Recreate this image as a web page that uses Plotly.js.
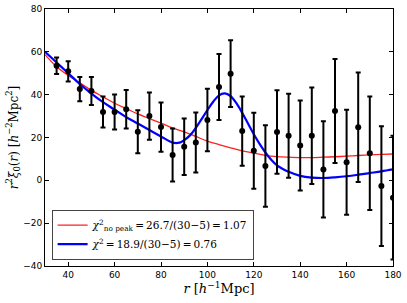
<!DOCTYPE html>
<html>
<head>
<meta charset="utf-8">
<script src="https://cdn.plot.ly/plotly-3.0.1.min.js"></script>
<style>html,body{margin:0;padding:0;background:#fff}#chart{width:407px;height:303px}</style>
</head>
<body>
<div id="chart"></div>
<script>
// Measured data
const rData = [35,40,45,50,55,60,65,70,75,80,85,90,95,100,105,110,115,120,125,130,135,140,145,150,155,160,165,170,175,180];
const xiData = [53.5,50.9,42.6,41.7,31.9,31.9,33.2,22.7,30.0,24.9,11.8,15.7,17.7,28.2,43.6,49.8,23.0,13.8,6.7,22.6,20.8,16.3,20.8,5.1,32.4,8.4,24.8,12.6,-2.7,-8.1];
const xiErr = [3.9,4.7,5.7,6.5,7.2,8.2,9.0,10.0,11.0,11.5,12.4,13.2,14.0,14.6,15.4,15.6,16.2,17.7,19.0,19.5,19.6,21.0,22.5,22.5,24.3,24.5,25.6,26.5,28.0,28.9];

// No-peak model (red)
const rNoPeak = [30,35,40,45,50,55,60,65,70,75,80,85,90,95,100,105,110,115,120,125,130,135,140,145,150,155,160,165,170,175,180];
const xiNoPeak = [58.7,53.0,49.0,45.5,42.0,39.0,36.0,33.5,31.0,28.8,26.7,24.5,22.6,20.5,18.3,16.7,15.2,13.8,12.7,11.7,11.1,10.8,10.6,10.6,10.8,11.0,11.3,11.6,11.9,12.1,12.3];

// Peak model (blue)
const rPeak = [30,35,40,45,50,55,60,65,70,75,80,85,88,90,92.5,95,97.5,100,102.5,105,107.5,110,112.5,115,117.5,120,122.5,125,127.5,130,132.5,135,140,145,150,155,160,165,170,175,180];
const xiPeak = [60,55,50,45,40.5,36.5,33,29.5,26.5,23.5,20.5,17.6,17.6,18.8,21,24.5,28.6,32.8,36.7,39.7,40.6,39.3,36,31.5,26.5,21.5,17,13,9.6,7,5.3,4,2.1,1.3,1.1,1.4,1.9,2.6,3.4,4.2,5.1];

const legendNoPeak = "<i>χ</i><sup>2</sup><sub>no peak</sub>\u2009=\u200926.7/(30\u22125)\u2009=\u20091.07";
const legendPeak = "<i>χ</i><sup>2</sup>\u2009=\u200918.9/(30\u22125)\u2009=\u20090.76";

const traces = [
  {x: rNoPeak, y: xiNoPeak, type: 'scatter', mode: 'lines', name: legendNoPeak,
   line: {color: '#ff2020', width: 1.3, shape: 'spline', smoothing: 1}},
  {x: rPeak, y: xiPeak, type: 'scatter', mode: 'lines', name: legendPeak,
   line: {color: '#0000ff', width: 2.2, shape: 'spline', smoothing: 1}},
  {x: rData, y: xiData, type: 'scatter', mode: 'markers', showlegend: false,
   marker: {color: 'black', size: 6},
   error_y: {type: 'data', array: xiErr, visible: true, color: 'black', thickness: 2, width: 2.5}}
];

const axisCommon = {
  showline: true, mirror: 'ticks', linecolor: 'black', linewidth: 1,
  ticks: 'inside', ticklen: 4, tickcolor: 'black', showgrid: false, zeroline: false,
  tickfont: {family: 'DejaVu Sans', size: 9, color: 'black'}
};

const layout = {
  width: 407, height: 303,
  margin: {l: 45, r: 14, t: 9, b: 37},
  paper_bgcolor: 'white', plot_bgcolor: 'white',
  showlegend: true,
  xaxis: Object.assign({}, axisCommon, {
    range: [30, 180], tickvals: [40,60,80,100,120,140,160,180],
    title: {text: "<i>r</i> [<i>h</i><sup>−1</sup>Mpc]", font: {family: 'DejaVu Serif', size: 13, color: 'black'}, standoff: 4}
  }),
  yaxis: Object.assign({}, axisCommon, {
    range: [-40, 80], tickvals: [-40,-20,0,20,40,60,80],
    title: {text: "<i>r</i><sup>2</sup><i>ξ</i><sub>0</sub>(<i>r</i>) [<i>h</i><sup>−2</sup>Mpc<sup>2</sup>]", font: {family: 'DejaVu Serif', size: 12, color: 'black'}, standoff: 2}
  }),
  legend: {
    x: 0.019, y: 0.025, xanchor: 'left', yanchor: 'bottom',
    bgcolor: 'white', bordercolor: '#444', borderwidth: 1,
    font: {family: 'DejaVu Serif', size: 10.5, color: 'black'},
    itemwidth: 30, tracegroupgap: 0
  }
};

Plotly.newPlot('chart', traces, layout, {displayModeBar: false, staticPlot: true});
</script>
</body>
</html>
